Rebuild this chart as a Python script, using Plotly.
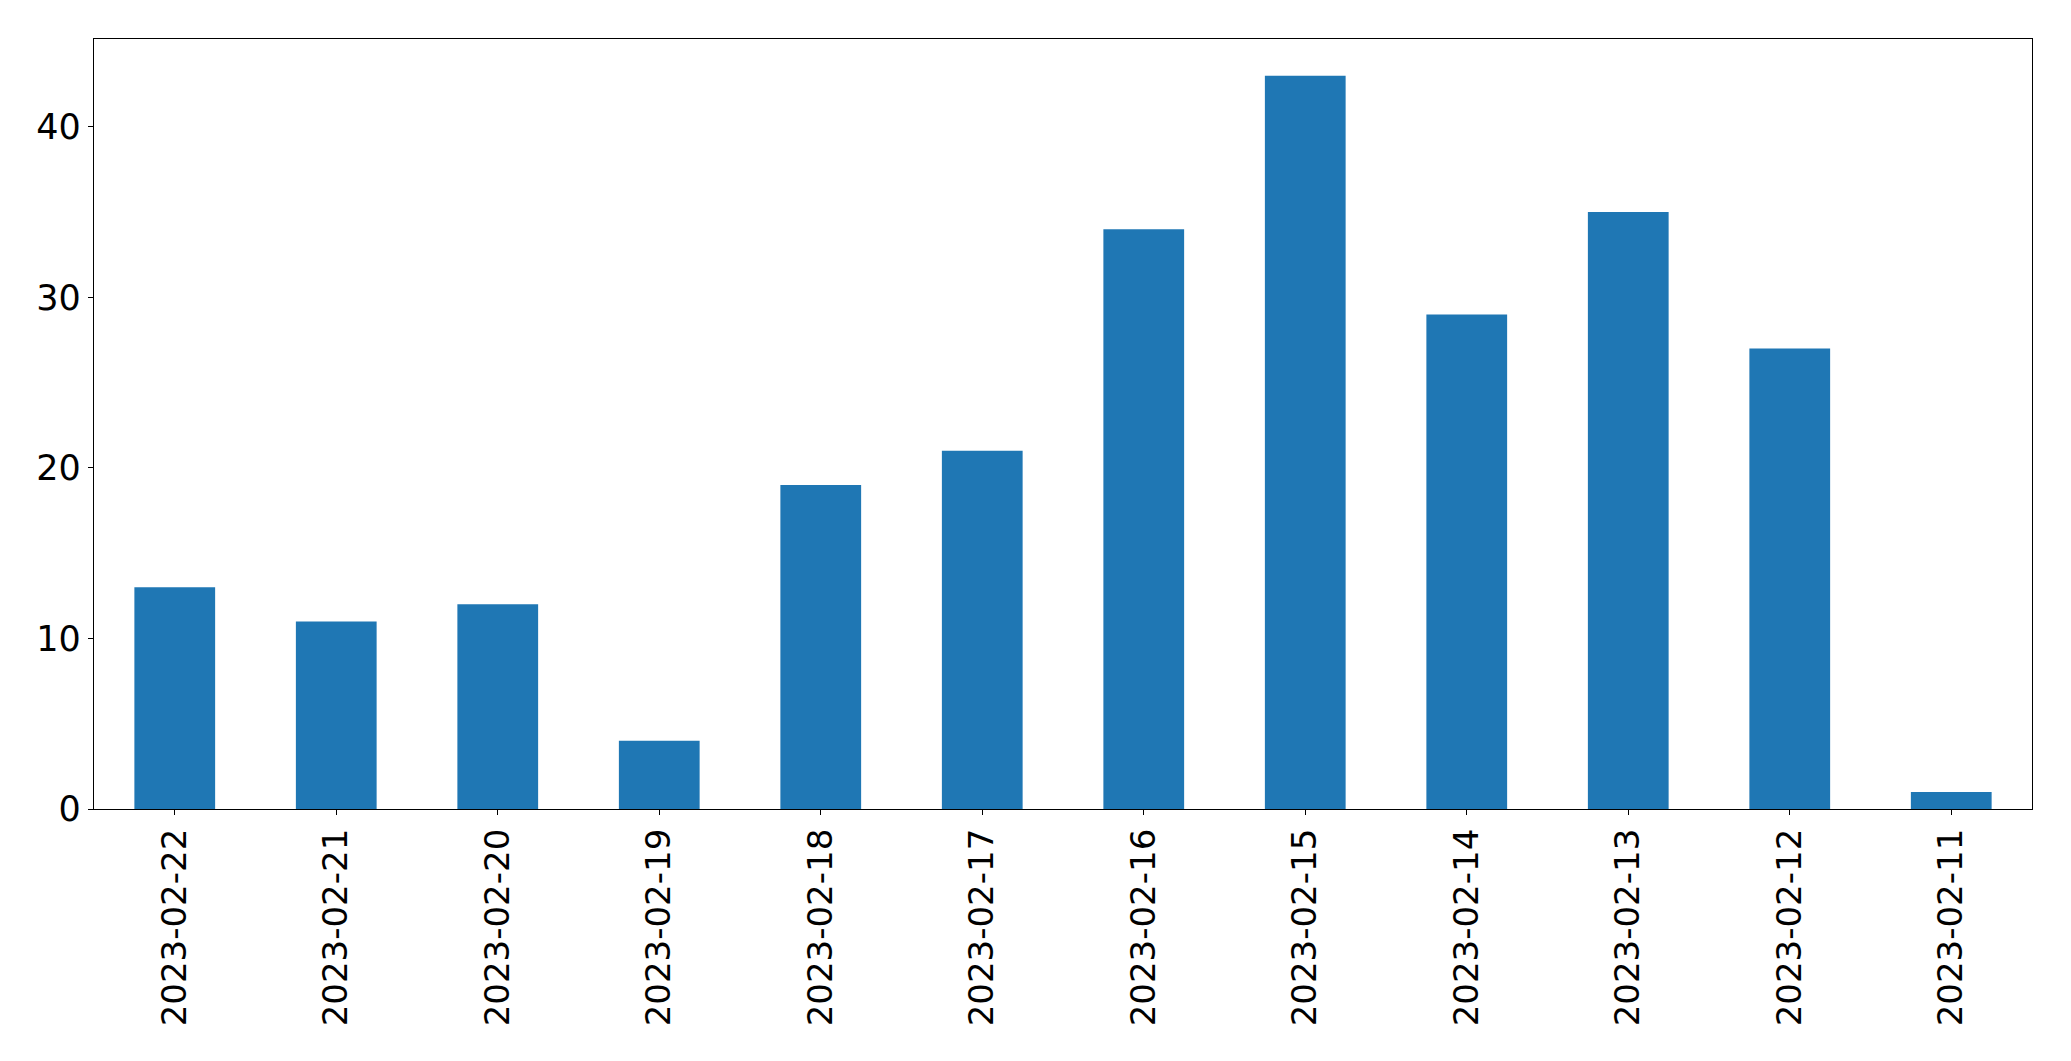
import plotly.graph_objects as go

dates = ["2023-02-22", "2023-02-21", "2023-02-20", "2023-02-19", "2023-02-18", "2023-02-17",
         "2023-02-16", "2023-02-15", "2023-02-14", "2023-02-13", "2023-02-12", "2023-02-11"]
counts = [13, 11, 12, 4, 19, 21, 34, 43, 29, 35, 27, 1]
y_ticks = [0, 10, 20, 30, 40]

fig = go.Figure(go.Bar(x=dates, y=counts, width=0.5, marker=dict(color="#1f77b4", line=dict(width=0))))

fig.update_layout(
    width=2063, height=1053,
    margin=dict(l=86, r=39, t=31, b=252, pad=0),
    paper_bgcolor="white", plot_bgcolor="white",
    font=dict(family="DejaVu Sans", size=34, color="black"),
    showlegend=False,
)
fig.update_xaxes(
    type="category", range=[-0.5, len(dates) - 0.5], tickangle=-90,
    showline=True, linecolor="black", linewidth=1.3, mirror=True,
    ticks="outside", ticklen=5, tickwidth=1.3, tickcolor="black",
    showgrid=False, zeroline=False, ticklabelstandoff=0,
)
fig.update_yaxes(
    range=[0, max(counts) * 1.05], tickvals=y_ticks,
    showline=True, linecolor="black", linewidth=1.3, mirror=True,
    ticks="outside", ticklen=5, tickwidth=1.3, tickcolor="black",
    showgrid=False, zeroline=False, ticklabelstandoff=0,
    tickfont=dict(size=35),
)

fig.write_html("out.html", config={"displayModeBar": False})
